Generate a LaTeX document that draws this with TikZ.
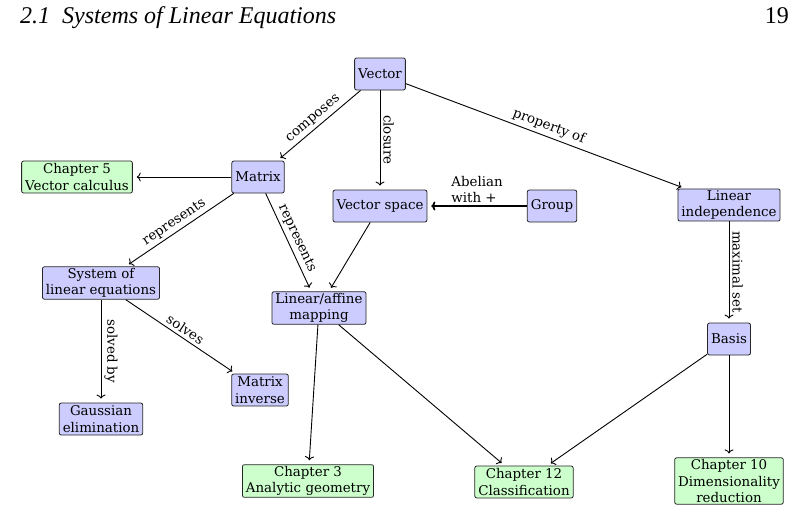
\documentclass[tikz,border=0pt]{standalone}
\usepackage{fontspec}
\setmainfont{DejaVu Serif}
\newfontfamily\headfont{Liberation Serif}
\usetikzlibrary{arrows.meta}
\begin{document}
\begin{tikzpicture}[x=1pt,y=-1pt,
  every node/.style={font=\fontsize{13.4}{16.5}\selectfont},
  concept/.style={draw=black!85, line width=0.8pt, rounded corners=2pt, fill=blue!20,
    align=center, minimum height=32pt, inner xsep=3.5pt, inner ysep=1.5pt},
  chapter/.style={concept, fill=green!20},
  link/.style={-{To[length=4pt,width=9pt]}, line width=0.9pt, shorten >=4pt},
  lbl/.style={sloped, inner sep=3pt}
]
\useasboundingbox (0,0) rectangle (800,523);
% header
\node[anchor=base west, inner sep=0pt, font=\headfont\fontsize{24}{26}\selectfont\itshape] (head) at (20,23) {2.1\enspace Systems of Linear Equations};
\node[anchor=base east, inner sep=0pt, font=\headfont\fontsize{24}{26}\selectfont] (pnum) at (789,23) {19};
% nodes
\node[concept] (vec) at (380,74) {Vector};
\node[concept] (mat) at (258,177) {Matrix};
\node[chapter] (ch5) at (77,177) {Chapter 5\\Vector calculus};
\node[concept] (vs) at (380,206) {Vector space};
\node[concept] (grp) at (552,206) {Group};
\node[concept] (li) at (729,205) {Linear\\independence};
\node[concept] (sys) at (101,283) {System of\\linear equations};
\node[concept] (lam) at (319,308) {Linear/affine\\mapping};
\node[concept] (minv) at (260,390) {Matrix\\inverse};
\node[concept] (ge) at (101,419) {Gaussian\\elimination};
\node[chapter] (ch3) at (308,481) {Chapter 3\\Analytic geometry};
\node[chapter] (ch12) at (524,482) {Chapter 12\\Classification};
\node[concept] (bas) at (729,339) {Basis};
\node[chapter] (ch10) at (729,481) {Chapter 10\\Dimensionality\\reduction};
% edges
\draw[link] (vec) -- node[lbl, above] {composes} (mat);
\draw[link] (vec) -- node[lbl, above] {closure} (vs);
\draw[link] (vec) -- node[lbl, above] {property of} (li);
\draw[link] (mat) -- (ch5);
\draw[link, line width=1.8pt] (grp) -- node[above, align=left, inner sep=2pt] {Abelian\\with +} (vs);
\draw[link] (mat) -- node[lbl, above] {represents} (sys);
\draw[link] (mat) -- node[lbl, above] {represents} (lam);
\draw[link] (vs) -- (lam);
\draw[link] (li) -- node[lbl, above] {maximal set} (bas);
\draw[link] (sys) -- node[lbl, above] {solved by} (ge);
\draw[link] (sys) -- node[lbl, above] {solves} (minv);
\draw[link] (lam) -- (ch3);
\draw[link] (lam) -- (ch12);
\draw[link] (bas) -- (ch12);
\draw[link] (bas) -- (ch10);
\end{tikzpicture}
\end{document}
